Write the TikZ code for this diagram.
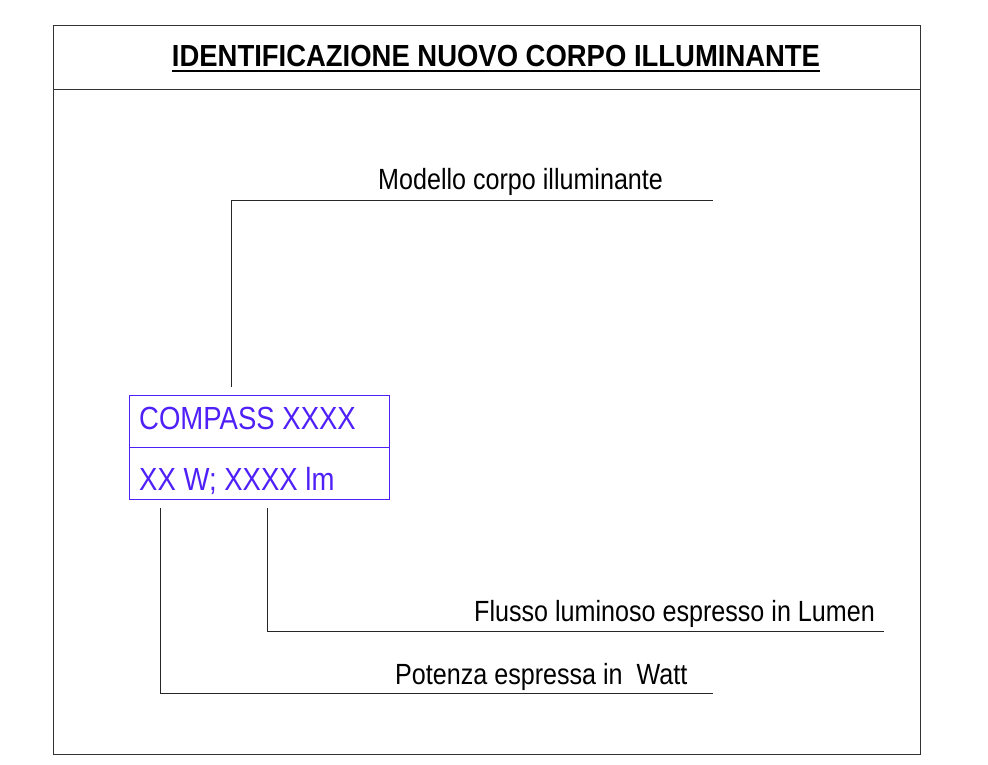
\documentclass[tikz,border=0pt]{standalone}
\usepackage{fontspec}
\newfontfamily\narrowfont[FakeStretch=0.86]{Liberation Sans}
\newfontfamily\titlefont[FakeStretch=0.90]{Liberation Sans Bold}
\definecolor{boxblue}{HTML}{5020F8}
\definecolor{frame}{HTML}{333333}
\begin{document}
\begin{tikzpicture}[x=1pt,y=-1pt,
  frameline/.style={draw=frame,line width=0.9pt},
  leader/.style={draw=black!85,line width=0.9pt},
  label/.style={anchor=base west,inner sep=0pt,font=\narrowfont\fontsize{29.2}{33}\selectfont},
  cell/.style={draw=boxblue,line width=0.9pt,fill=white,minimum width=260pt,minimum height=52pt,inner sep=0pt,anchor=north west},
  celltext/.style={anchor=base west,inner sep=0pt,text=boxblue,font=\narrowfont\fontsize{32}{36}\selectfont}]
\useasboundingbox (0,0) rectangle (988,764);
% frame
\draw[frameline] (53,25) rectangle (920,754);
\draw[frameline] (53,89) -- (920,89);
\node[anchor=base,inner sep=0pt,font=\titlefont\fontsize{30.5}{34}\selectfont] (title) at (496,66) {IDENTIFICAZIONE NUOVO CORPO ILLUMINANTE};
\coordinate (ul1) at (172,71);
\coordinate (ul2) at (820,71);
\draw[line width=1.4pt] (ul1) -- (ul2);
% box
\node[cell] (top) at (129,395) {};
\node[cell] (bot) at (129,447) {};
\node[celltext] (t1) at (139,429) {COMPASS XXXX};
\node[celltext] (t2) at (139,490) {XX W; XXXX lm};
% leaders
\coordinate (m0) at (231,387);
\coordinate (m1) at (231,200);
\coordinate (m2) at (713,200);
\draw[leader] (m0) -- (m1) -- (m2);
\node[label] (lm) at (378,189) {Modello corpo illuminante};
\coordinate (f0) at (267,508);
\coordinate (f1) at (267,631);
\coordinate (f2) at (884,631);
\draw[leader] (f0) -- (f1) -- (f2);
\node[label] (lf) at (474,621) {Flusso luminoso espresso in Lumen};
\coordinate (p0) at (160,508);
\coordinate (p1) at (160,693);
\coordinate (p2) at (713,693);
\draw[leader] (p0) -- (p1) -- (p2);
\node[label] (lp) at (395,684) {Potenza espressa in\ \ Watt};
\end{tikzpicture}
\end{document}
